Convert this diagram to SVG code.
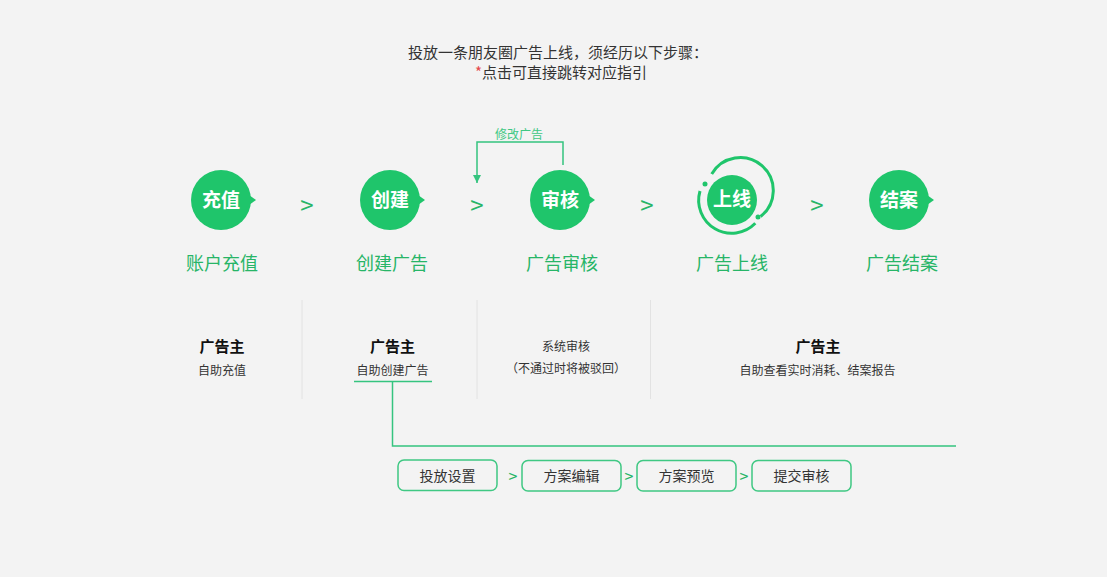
<svg xmlns="http://www.w3.org/2000/svg" width="1107" height="577" viewBox="0 0 1107 577">
<defs>
<style>
text{font-family:"Noto Sans CJK SC","Noto Sans",sans-serif;}
.title{font-size:15px;fill:#333;text-anchor:middle;}
.circ{fill:#1fc56b;}
.ctext{font-size:19px;font-weight:bold;fill:#fff;text-anchor:middle;}
.lbl{font-size:18px;fill:#27b567;text-anchor:middle;}
.gt{font-size:24px;fill:#27b567;text-anchor:middle;}
.sep{stroke:#e2e2e2;stroke-width:1;}
.role{font-size:15px;font-weight:bold;fill:#111;text-anchor:middle;}
.desc{font-size:12px;fill:#333;text-anchor:middle;}
.conn{fill:none;stroke:#35c47f;stroke-width:1.5;}
.box{fill:#f3f3f3;stroke:#3fc883;stroke-width:1.5;}
.btext{font-size:14px;fill:#333;text-anchor:middle;}
.sgt{font-size:16px;fill:#27b567;text-anchor:middle;}
</style>
<marker id="arr" viewBox="0 0 10 10" refX="10" refY="5" markerWidth="9" markerHeight="8" markerUnits="userSpaceOnUse" orient="auto">
<path d="M0,0 L10,5 L0,10 Z" fill="#35c47f"/>
</marker>
</defs>
<rect width="1107" height="577" fill="#f3f3f3"/>

<g id="title">
<text class="title" x="558" y="58">投放一条朋友圈广告上线，须经历以下步骤：</text>
<text class="title" x="561" y="78"><tspan fill="#e5484d">*</tspan>点击可直接跳转对应指引</text>
</g>

<g id="step-recharge">
<circle class="circ" cx="221" cy="200" r="30"/>
<path class="circ" d="M249,195 L256,200 L249,205 Z"/>
<text class="ctext" x="221" y="207">充值</text>
<text class="lbl" x="222" y="270">账户充值</text>
</g>
<g id="step-create">
<circle class="circ" cx="390" cy="200" r="30"/>
<path class="circ" d="M418,195 L425,200 L418,205 Z"/>
<text class="ctext" x="390" y="207">创建</text>
<text class="lbl" x="392" y="270">创建广告</text>
</g>
<g id="step-review">
<circle class="circ" cx="560" cy="200" r="30"/>
<path class="circ" d="M588,195 L595,200 L588,205 Z"/>
<text class="ctext" x="560" y="207">审核</text>
<text class="lbl" x="562" y="270">广告审核</text>
</g>
<g id="step-online">
<circle class="circ" cx="732" cy="200" r="25"/>
<path d="M711.7,174.0 A33,33 0 1 1 760.6,216.5" fill="none" stroke="#1fc56b" stroke-width="3"/>
<path d="M755.3,223.3 A33,33 0 0 1 700.0,191.0" fill="none" stroke="#1fc56b" stroke-width="3"/>
<circle class="circ" cx="705" cy="184" r="2.5"/>
<circle class="circ" cx="758" cy="217" r="2.5"/>
<text class="ctext" x="732" y="206">上线</text>
<text class="lbl" x="732" y="270">广告上线</text>
</g>
<g id="step-close">
<circle class="circ" cx="899" cy="200" r="30"/>
<path class="circ" d="M927,195 L934,200 L927,205 Z"/>
<text class="ctext" x="899" y="207">结案</text>
<text class="lbl" x="902" y="270">广告结案</text>
</g>

<g id="step-separators">
<text class="gt" x="307" y="214">&gt;</text>
<text class="gt" x="477" y="214">&gt;</text>
<text class="gt" x="647" y="214">&gt;</text>
<text class="gt" x="817" y="214">&gt;</text>
</g>

<g id="connectors">
<path class="conn" d="M563,165 V142 H477 V183" marker-end="url(#arr)"/>
<text x="519" y="139" font-size="12" fill="#3fc883" text-anchor="middle">修改广告</text>
<path class="conn" d="M354,381.5 H432"/>
<path class="conn" d="M392.5,381.5 V446 H956"/>
</g>

<g id="dividers">
<line class="sep" x1="302" y1="300" x2="302" y2="399"/>
<line class="sep" x1="477" y1="300" x2="477" y2="399"/>
<line class="sep" x1="650.5" y1="300" x2="650.5" y2="399"/>
</g>

<g id="role-recharge">
<text class="role" x="222" y="352">广告主</text>
<text class="desc" x="222" y="375">自助充值</text>
</g>
<g id="role-create">
<text class="role" x="392.5" y="352">广告主</text>
<text class="desc" x="392.5" y="375">自助创建广告</text>
</g>
<g id="role-review">
<text class="desc" x="566" y="351">系统审核</text>
<text class="desc" x="566" y="373">（不通过时将被驳回）</text>
</g>
<g id="role-report">
<text class="role" x="818" y="352">广告主</text>
<text class="desc" x="817.5" y="375">自助查看实时消耗、结案报告</text>
</g>

<g id="sub-setup">
<rect class="box" x="398" y="460" width="99" height="30.5" rx="6"/>
<text class="btext" x="447.5" y="480.5">投放设置</text>
</g>
<g id="sub-edit">
<rect class="box" x="522" y="460.5" width="99" height="30.5" rx="6"/>
<text class="btext" x="571.5" y="481">方案编辑</text>
</g>
<g id="sub-preview">
<rect class="box" x="637" y="460.5" width="99" height="30.5" rx="6"/>
<text class="btext" x="686.5" y="481">方案预览</text>
</g>
<g id="sub-submit">
<rect class="box" x="752" y="460.5" width="99" height="30.5" rx="6"/>
<text class="btext" x="801.5" y="481">提交审核</text>
</g>
<g id="sub-separators">
<text class="sgt" x="513" y="482">&gt;</text>
<text class="sgt" x="629" y="482">&gt;</text>
<text class="sgt" x="744" y="482">&gt;</text>
</g>
</svg>
